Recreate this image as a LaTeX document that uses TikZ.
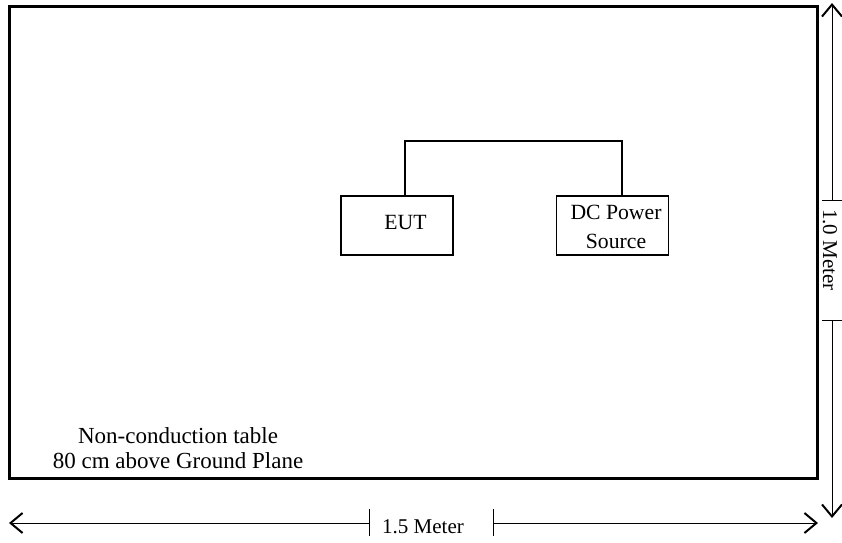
\documentclass[tikz,border=0pt]{standalone}
\usepackage{fontspec}
\setmainfont{Liberation Serif}
\usetikzlibrary{arrows.meta}
\begin{document}
\begin{tikzpicture}[x=1pt,y=-1pt,
  box/.style={draw,line width=1.2pt,minimum width=112pt,minimum height=59pt,inner sep=0pt},
  txt/.style={font=\fontsize{21.7}{26}\selectfont,inner sep=0pt,anchor=base},
  notetxt/.style={font=\fontsize{23}{27}\selectfont,inner sep=0pt,anchor=base},
  dim/.style={line width=1pt},
  dimhead/.style={-{Straight Barb[length=12pt,width=20pt,line width=2pt]}},
  lbl/.style={font=\fontsize{21}{24}\selectfont,inner sep=0pt,anchor=base}]
\useasboundingbox (0,0) rectangle (842,542);
\draw[line width=3pt] (9,6) rectangle (817,478);
\node[box] (eut) at (397,225.5) {};
\node[box] (dc) at (612.5,225.5) {};
\node[txt] (eutt) at (405.5,229) {EUT};
\node[txt] (dct1) at (616,219) {DC Power};
\node[txt] (dct2) at (616,248) {Source};
\coordinate (ca) at (405,141);
\coordinate (cb) at (622,141);
\draw[line width=1.2pt] (eut.north -| ca) -- (ca) -- (cb) -- (dc.north -| cb);
\node[notetxt] (note1) at (178,443) {Non-conduction table};
\node[notetxt] (note2) at (178,468) {80 cm above Ground Plane};
% horizontal dimension
\node[lbl] (hl) at (423,533) {1.5 Meter};
\coordinate (h1) at (369,523);
\coordinate (h2) at (493,523);
\coordinate (hL) at (9,523);
\coordinate (hR) at (818,523);
\draw[dim,dimhead] (h1) -- (hL);
\draw[dim,dimhead] (h2) -- (hR);
\draw[dim] ([yshift=-13pt]h1) -- ([yshift=14pt]h1);
\draw[dim] ([yshift=-13pt]h2) -- ([yshift=14pt]h2);
% vertical dimension
\node[lbl,rotate=-90] (vl) at (823,250) {1.0 Meter};
\coordinate (v1) at (832,200);
\coordinate (v2) at (832,320);
\coordinate (vT) at (832,3);
\coordinate (vB) at (832,518);
\draw[dim,dimhead] (v1) -- (vT);
\draw[dim,dimhead] (v2) -- (vB);
\draw[dim] ([xshift=-10pt]v1) -- ([xshift=10pt]v1);
\draw[dim] ([xshift=-10pt]v2) -- ([xshift=10pt]v2);
\end{tikzpicture}
\end{document}
